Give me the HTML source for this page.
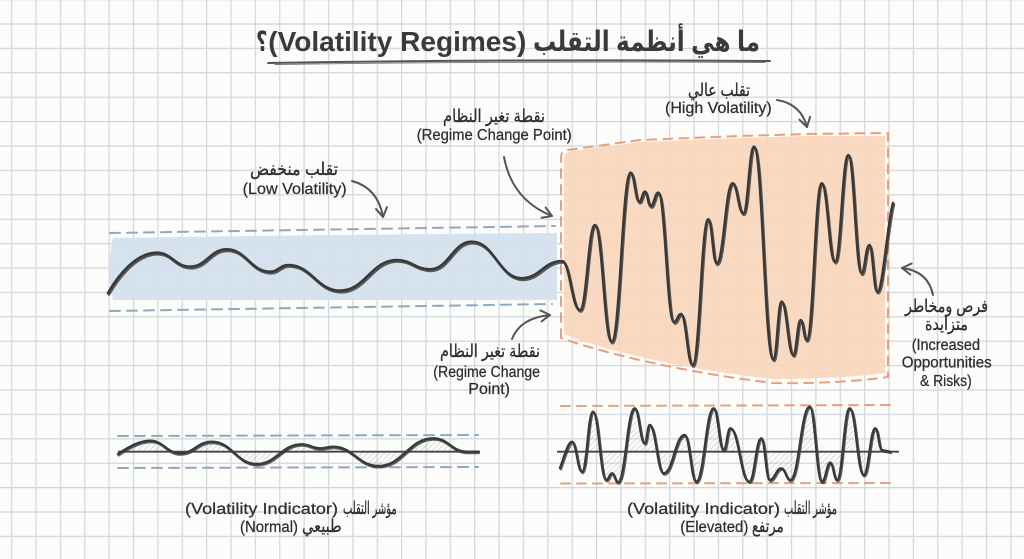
<!DOCTYPE html>
<html><head><meta charset="utf-8">
<style>
html,body{margin:0;padding:0;background:#fcfcfb;width:1024px;height:559px;overflow:hidden}
svg{display:block}
</style></head>
<body>
<svg width="1024" height="559" viewBox="0 0 1024 559" xmlns="http://www.w3.org/2000/svg">
<defs>
  <pattern id="grid" x="11.1" y="23.4" width="24.37" height="24.4" patternUnits="userSpaceOnUse">
    <path d="M0.6,0 V24.4 M0,0.6 H24.37" stroke="#d2d5db" stroke-width="1.2" fill="none"/>
  </pattern>
  <pattern id="hatch" width="4" height="4" patternUnits="userSpaceOnUse" patternTransform="rotate(45)">
    <line x1="0" y1="0" x2="0" y2="4" stroke="#777" stroke-width="0.9"/>
  </pattern>
  <marker id="ah" viewBox="-11 -7 13 14" markerWidth="13" markerHeight="14" refX="0" refY="0" orient="auto" markerUnits="userSpaceOnUse">
    <path d="M-9,-5.5 L0,0 L-9,5.5" fill="none" stroke="#555" stroke-width="2" stroke-linecap="round" stroke-linejoin="round"/>
  </marker>
</defs>

<rect width="1024" height="559" fill="#fcfcfb"/>
<rect width="1024" height="559" fill="url(#grid)"/>

<!-- blue band fill -->
<path d="M113,238 Q300,235 557,233 L557,300 L113,300 Q106,270 113,238 Z" fill="#d3e1ee" opacity="0.92"/>
<!-- orange fill -->
<path d="M564,157 Q565,152 572,151 L640,142 L740,138 L807,136 L885,136 L885,373 Q840,379 773,379 C680,369 600,349 564,334 Z" fill="#f9d6bb" opacity="0.92"/>

<!-- dashed boundaries -->
<g fill="none" stroke-width="2" stroke-linecap="round">
  <path d="M110,233 L555,226" stroke="#8fa8c0" stroke-dasharray="10 7"/>
  <path d="M110,311 L552,304" stroke="#8fa8c0" stroke-dasharray="10 7"/>
  <path d="M561,338 L561,157 Q561,151 568,150 L640,140 L740,136 L807,134 L888,133 L888,377 Q840,384 773,383 C680,372 600,352 561,338" stroke="#e8a07a" stroke-dasharray="9 7"/>
  <path d="M118,436 L478,435" stroke="#8fa8c0" stroke-dasharray="10 7"/>
  <path d="M118,468 L478,467" stroke="#8fa8c0" stroke-dasharray="10 7"/>
  <path d="M561,406 L892,405" stroke="#e8a07a" stroke-dasharray="9 7"/>
  <path d="M561,483.5 L892,483" stroke="#e8a07a" stroke-dasharray="9 7"/>
</g>

<!-- main wave -->
<g fill="none" stroke-linecap="round" stroke-linejoin="round">
  <path id="mw" d="M108,293 C120,272 138,252.7 156.7,252.7 C171.7,252.7 175,266.7 190,266.7 C206.5,266.7 210.2,249.3 226.7,249.3 C246.2,249.3 250.5,271.7 270,271.7 C278.2,271.7 280.1,265 288.3,265 C311.6,265 316.7,290.7 340,290.7 C365.5,290.7 371.2,260 396.7,260 C411.7,260 415,269.3 430,269.3 C448.8,269.3 452.9,241.7 471.7,241.7 C494.2,241.7 499.2,278.3 521.7,278.3 C539.8,278.3 543.9,261 562,261 C570.1,261 571.9,310 580,310 C586.8,310 588.3,225 595,225 C602.5,225 604.2,341.7 611.7,341.7 C620.3,341.7 622.1,172.7 630.7,172.7 C634.6,172.7 635.4,201.7 639.3,201.7 C641.9,201.7 642.4,191.7 645,191.7 C647.6,191.7 648.1,206 650.7,206 C654.1,206 654.9,192.7 658.3,192.7 C665.4,192.7 666.9,322 674,322 C677.2,322 677.8,314 681,314 C686.3,314 687.4,365 692.7,365 C699.7,365 701.3,219.3 708.3,219.3 C712.1,219.3 712.9,263.3 716.7,263.3 C723.9,263.3 725.5,183.3 732.7,183.3 C737.5,183.3 738.5,213.3 743.3,213.3 C748.1,213.3 749.2,146.7 754,146.7 C762.7,146.7 764.6,359.3 773.3,359.3 C777.1,359.3 777.9,301.7 781.7,301.7 C786.9,301.7 788.1,355 793.3,355 C796.6,355 797.4,320 800.7,320 C803.4,320 804,340 806.7,340 C813.5,340 815,183.3 821.7,183.3 C827.7,183.3 829,261.7 835,261.7 C841,261.7 842.3,155 848.3,155 C854.3,155 855.7,273.3 861.7,273.3 C864.7,273.3 865.9,245 869.3,245 C872.9,245 873.7,291.7 877.3,291.7 C883,291.7 887,225 893,203" stroke="#3a3a3a" stroke-width="2.6"/>
  <use href="#mw" transform="translate(1,1.6)" stroke="#666" stroke-width="1" opacity="0.8"/>
</g>

<!-- bottom-left indicator -->
<path d="M118,454 C130,446 140,440.7 150,440.7 C163.5,440.7 166.5,453.3 180,453.3 C194.3,453.3 197.4,441.7 211.7,441.7 C232,441.7 236.4,464 256.7,464 C277,464 281.4,444.3 301.7,444.3 C309.9,444.3 311.8,448.3 320,448.3 C325.9,448.3 327.1,446.7 333,446.7 C353.4,446.7 357.9,466 378.3,466 C403.1,466 408.5,438.3 433.3,438.3 C448.3,438.3 451.7,451.7 466.7,451.7 L478,451.7 L118,451.7 Z" fill="url(#hatch)" opacity="0.55"/>
<line x1="118" y1="451.7" x2="480" y2="451.7" stroke="#444" stroke-width="1.8"/>
<g fill="none" stroke-linecap="round" stroke-linejoin="round">
  <path id="lw" d="M118,454 C130,446 140,440.7 150,440.7 C163.5,440.7 166.5,453.3 180,453.3 C194.3,453.3 197.4,441.7 211.7,441.7 C232,441.7 236.4,464 256.7,464 C277,464 281.4,444.3 301.7,444.3 C309.9,444.3 311.8,448.3 320,448.3 C325.9,448.3 327.1,446.7 333,446.7 C353.4,446.7 357.9,466 378.3,466 C403.1,466 408.5,438.3 433.3,438.3 C448.3,438.3 451.7,451.7 466.7,451.7 L478,451.7" stroke="#3a3a3a" stroke-width="2.4"/>
  <use href="#lw" transform="translate(0.8,1.3)" stroke="#666" stroke-width="1" opacity="0.8"/>
</g>

<!-- bottom-right indicator -->
<path d="M560,468 C565,455 568,441.7 572,441.7 C576.5,441.7 577.5,471.7 582,471.7 C587,471.7 588,411.7 593,411.7 C599,411.7 600.3,480 606.3,480 C608.9,480 609.4,473.3 612,473.3 C614.7,473.3 615.3,482.3 618,482.3 C625.5,482.3 627.2,408.3 634.7,408.3 C639.2,408.3 640.2,443.3 644.7,443.3 C647,443.3 647.4,425 649.7,425 C656,425 657.4,473.3 663.7,473.3 C673.2,473.3 675.2,435 684.7,435 C689.9,435 691.1,481.7 696.3,481.7 C704.1,481.7 705.9,408.3 713.7,408.3 C718.2,408.3 719.2,450 723.7,450 C726.7,450 727.3,428.3 730.3,428.3 C738.9,428.3 740.7,481.7 749.3,481.7 C754.7,481.7 755.9,438.3 761.3,438.3 C765.1,438.3 765.9,480 769.7,480 C774.9,480 776.1,468.3 781.3,468.3 C785.3,468.3 786.3,480 790.3,480 C799,480 801,406.7 809.7,406.7 C815.2,406.7 816.5,481.7 822,481.7 C825.7,481.7 826.6,462.7 830.3,462.7 C833.3,462.7 834,480 837,480 C842.7,480 844,408.3 849.7,408.3 C856,408.3 857.4,475 863.7,475 C868.9,475 870.1,428.3 875.3,428.3 C878.3,428.3 879,450 882,450 L890,451.7 L560,451.7 Z" fill="url(#hatch)" opacity="0.5"/>
<line x1="557" y1="451.7" x2="899" y2="451.7" stroke="#444" stroke-width="1.8"/>
<g fill="none" stroke-linecap="round" stroke-linejoin="round">
  <path id="rw" d="M560,468 C565,455 568,441.7 572,441.7 C576.5,441.7 577.5,471.7 582,471.7 C587,471.7 588,411.7 593,411.7 C599,411.7 600.3,480 606.3,480 C608.9,480 609.4,473.3 612,473.3 C614.7,473.3 615.3,482.3 618,482.3 C625.5,482.3 627.2,408.3 634.7,408.3 C639.2,408.3 640.2,443.3 644.7,443.3 C647,443.3 647.4,425 649.7,425 C656,425 657.4,473.3 663.7,473.3 C673.2,473.3 675.2,435 684.7,435 C689.9,435 691.1,481.7 696.3,481.7 C704.1,481.7 705.9,408.3 713.7,408.3 C718.2,408.3 719.2,450 723.7,450 C726.7,450 727.3,428.3 730.3,428.3 C738.9,428.3 740.7,481.7 749.3,481.7 C754.7,481.7 755.9,438.3 761.3,438.3 C765.1,438.3 765.9,480 769.7,480 C774.9,480 776.1,468.3 781.3,468.3 C785.3,468.3 786.3,480 790.3,480 C799,480 801,406.7 809.7,406.7 C815.2,406.7 816.5,481.7 822,481.7 C825.7,481.7 826.6,462.7 830.3,462.7 C833.3,462.7 834,480 837,480 C842.7,480 844,408.3 849.7,408.3 C856,408.3 857.4,475 863.7,475 C868.9,475 870.1,428.3 875.3,428.3 C878.3,428.3 879,450 882,450 L890,451.7" stroke="#3a3a3a" stroke-width="2.4"/>
  <use href="#rw" transform="translate(0.9,1.3)" stroke="#666" stroke-width="1" opacity="0.8"/>
</g>

<!-- arrows -->
<g fill="none" stroke="#555" stroke-width="2" stroke-linecap="round" marker-end="url(#ah)">
  <path d="M352,181 Q378,188 383,217"/>
  <path d="M504,157 Q512,200 552,216"/>
  <path d="M777,100 Q801,104 807,127"/>
  <path d="M933,295 Q928,271 902,268"/>
  <path d="M512,339 Q520,318 550,315"/>
</g>

<!-- title underline -->
<path d="M268,63 Q520,59 770,61" fill="none" stroke="#555" stroke-width="2" stroke-linecap="round"/>
<path d="M275,64.5 Q520,61 765,62.5" fill="none" stroke="#777" stroke-width="0.9" stroke-linecap="round"/>

<!-- text -->
<g font-family="'Liberation Sans','DejaVu Sans',sans-serif" fill="#3a3a3a">
  <text x="256" y="51" font-size="28" font-weight="bold" textLength="11.5" lengthAdjust="spacingAndGlyphs">؟</text>
  <text x="268.3" y="51" font-size="28" font-weight="bold" textLength="258" lengthAdjust="spacingAndGlyphs">(Volatility Regimes)</text>
  <text x="533" y="51" font-size="28" font-weight="bold" textLength="227" lengthAdjust="spacingAndGlyphs">ما هي أنظمة التقلب</text>
</g>
<g font-family="'Liberation Sans','DejaVu Sans',sans-serif" font-size="15.5" fill="#2e2e2e" stroke="#2e2e2e" stroke-width="0.25">
  <text x="242.7" y="194" textLength="104" lengthAdjust="spacingAndGlyphs">(Low Volatility)</text>
  <text x="416.7" y="140" textLength="155" lengthAdjust="spacingAndGlyphs">(Regime Change Point)</text>
  <text x="665" y="113" textLength="106.7" lengthAdjust="spacingAndGlyphs">(High Volatility)</text>
  <text x="911.7" y="350" textLength="68.3" lengthAdjust="spacingAndGlyphs">(Increased</text>
  <text x="901.7" y="367.5" textLength="90" lengthAdjust="spacingAndGlyphs">Opportunities</text>
  <text x="920" y="386" textLength="51.7" lengthAdjust="spacingAndGlyphs">&amp; Risks)</text>
  <text x="433.3" y="377" textLength="106.7" lengthAdjust="spacingAndGlyphs">(Regime Change</text>
  <text x="468.3" y="394" textLength="41.7" lengthAdjust="spacingAndGlyphs">Point)</text>
  <text x="185" y="514" textLength="153" lengthAdjust="spacingAndGlyphs">(Volatility Indicator)</text>
  <text x="240" y="532" textLength="58" lengthAdjust="spacingAndGlyphs">(Normal)</text>
  <text x="627" y="514" textLength="153" lengthAdjust="spacingAndGlyphs">(Volatility Indicator)</text>
  <text x="680.3" y="532" textLength="68" lengthAdjust="spacingAndGlyphs">(Elevated)</text>
</g>
<g font-family="'Liberation Sans','DejaVu Sans',sans-serif" font-size="17.5" fill="#2e2e2e" stroke="#2e2e2e" stroke-width="0.3">
  <text x="250" y="175" textLength="88" lengthAdjust="spacingAndGlyphs">تقلب منخفض</text>
  <text x="443" y="122" textLength="102" lengthAdjust="spacingAndGlyphs">نقطة تغير النظام</text>
  <text x="688" y="96" textLength="62" lengthAdjust="spacingAndGlyphs">تقلب عالي</text>
  <text x="905" y="312" textLength="83" lengthAdjust="spacingAndGlyphs">فرص ومخاطر</text>
  <text x="925" y="330" textLength="43" lengthAdjust="spacingAndGlyphs">متزايدة</text>
  <text x="440" y="357" textLength="100" lengthAdjust="spacingAndGlyphs">نقطة تغير النظام</text>
  <text x="343" y="514" textLength="53.7" lengthAdjust="spacingAndGlyphs">مؤشر التقلب</text>
  <text x="302" y="532" textLength="39.7" lengthAdjust="spacingAndGlyphs">طبيعي</text>
  <text x="784" y="514" textLength="53" lengthAdjust="spacingAndGlyphs">مؤشر التقلب</text>
  <text x="752" y="532" textLength="31.7" lengthAdjust="spacingAndGlyphs">مرتفع</text>
</g>
</svg>
</body></html>
